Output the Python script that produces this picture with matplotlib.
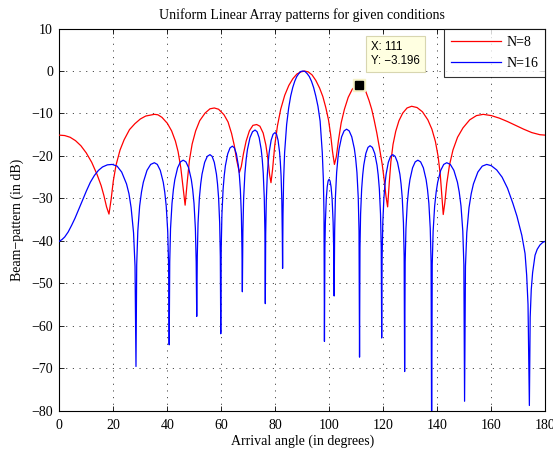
import matplotlib
matplotlib.use("Agg")
import matplotlib.pyplot as plt

# ---------------- data ----------------
title_text = "Uniform Linear Array patterns for given conditions"
x_label = "Arrival angle (in degrees)"
y_label = "Beam\u2212pattern (in dB)"
series_names = ["N=8", "N=16"]
x_ticks = [0, 20, 40, 60, 80, 100, 120, 140, 160, 180]
y_ticks = [10, 0, -10, -20, -30, -40, -50, -60, -70, -80]

n8_angle = [0.0, 2.0, 4.0, 6.0, 8.0, 10.0, 12.0, 14.0, 15.5, 16.5, 17.5, 18.4,
            19.2, 20.0, 21.0, 22.5, 24.0, 26.0, 28.0, 30.0, 32.0, 35.2, 36.5, 38.0,
            40.0, 41.6, 43.0, 44.0, 45.0, 45.8, 46.6,
            47.4, 48.2, 49.2, 50.5, 52.0, 54.0, 55.8, 57.4, 59.0, 61.0, 62.5, 63.8,
            64.8, 65.7, 66.7,
            67.4, 68.2, 69.2, 70.4, 71.7, 73.1, 74.3, 75.5, 76.5, 77.3, 77.9, 78.4,
            79.0, 79.8, 80.8, 82.0, 83.5, 85.0, 86.5, 88.0, 89.5, 90.8, 92.2, 93.6,
            95.0, 96.4, 97.6, 98.7, 99.7, 100.5, 101.2, 101.9,
            102.6, 103.4, 104.4, 105.6, 107.0, 108.5, 109.8, 111.0, 112.3, 113.5,
            114.7, 115.7, 116.6, 117.6, 118.6, 119.6, 120.4, 121.0, 121.6,
            122.2, 122.8, 123.6, 124.6, 125.8, 127.2, 128.8, 130.5, 132.5, 134.5,
            136.5, 138.0, 139.3, 140.3, 141.1, 141.7, 142.2,
            142.8, 143.5, 144.5, 145.8, 147.5, 149.5, 152.0, 154.5, 157.0, 160.0,
            163.0, 166.0, 169.0, 172.0, 175.0, 178.0, 180.0]
n8_db = [-15.1, -15.2, -15.6, -16.4, -17.6, -19.3, -21.5, -24.4, -27.0, -29.3, -32.0, -33.7,
         -30.2, -25.9, -22.2, -18.6, -16.2, -13.8, -12.4, -11.3, -10.6, -10.2, -10.3, -10.9,
         -12.3, -14.1, -16.5, -19.0, -22.8, -27.3, -31.6,
         -26.0, -21.0, -17.2, -14.1, -11.7, -9.9, -8.9, -8.7, -9.0, -10.3, -12.0, -14.7,
         -17.5, -21.0, -23.9,
         -22.5, -19.5, -16.5, -14.1, -12.8, -12.6, -13.0, -14.6, -17.4, -20.9, -24.5, -26.3,
         -23.1, -17.5, -12.9, -9.0, -5.7, -3.4, -1.8, -0.7, -0.2, 0.0, -0.2, -0.9,
         -2.2, -4.0, -6.0, -8.6, -11.5, -15.0, -19.0, -22.0,
         -20.2, -16.3, -12.2, -9.0, -6.2, -4.3, -3.45, -3.196, -3.6, -4.8,
         -6.9, -9.0, -11.5, -14.6, -18.2, -22.0, -26.0, -29.5, -32.0,
         -26.4, -21.4, -17.3, -14.2, -11.7, -9.9, -8.7, -8.3, -8.6, -9.6,
         -11.5, -13.7, -16.6, -20.1, -24.4, -29.7, -33.8,
         -31.0, -26.5, -22.2, -18.6, -15.6, -13.4, -11.5, -10.5, -10.2, -10.5,
         -11.1, -11.9, -12.8, -13.7, -14.5, -15.0, -15.1]

n16_angle = [0.0, 1.0, 2.0, 3.3, 4.6, 5.8, 7.0, 8.5, 10.0, 11.5, 13.0, 14.5, 16.0, 17.8,
             19.6, 21.4, 23.1, 24.9, 25.8, 26.6, 27.5, 28.05, 28.4,
             28.67, 29.08, 29.76, 30.44, 31.12, 32.48, 33.84, 35.2, 36.3, 37.4, 38.5,
             39.05, 39.6, 40.15, 40.48, 40.7,
             40.9, 41.2, 41.74, 42.26, 42.78, 43.82, 44.86, 45.9, 46.9, 47.9, 48.9,
             49.4, 49.9, 50.4, 50.7, 50.9,
             51.1, 51.39, 51.88, 52.37, 52.86, 53.84, 54.82, 55.8, 56.6, 57.4, 58.2,
             58.6, 59.0, 59.4, 59.64, 59.8,
             59.97, 60.23, 60.66, 61.09, 61.52, 62.38, 63.24, 64.1, 64.84, 65.58, 66.32,
             66.69, 67.06, 67.43, 67.65, 67.8,
             67.99, 68.27, 68.74, 69.21, 69.68, 70.62, 71.56, 72.5, 73.26, 74.02, 74.78,
             75.16, 75.54, 75.92, 76.15, 76.3,
             76.44, 76.66, 77.02, 77.38, 77.74, 78.46, 79.18, 79.9, 80.46, 81.02, 81.58,
             81.86, 82.14, 82.42, 82.59, 82.7,
             82.85, 83.08, 83.45, 84.2, 84.95, 85.7, 86.45, 87.2, 87.95, 88.7, 89.45,
             90.2, 91.0, 91.8, 92.6, 93.4, 94.2, 95.0, 95.8, 96.6, 97.4, 97.8, 98.04, 98.2,
             98.37, 98.54, 98.88, 99.22, 99.56, 99.9, 100.28, 100.66, 101.04, 101.42,
             101.61, 101.8,
             101.98, 102.26, 102.72, 103.18, 103.64, 104.56, 105.48, 106.4, 107.36,
             108.32, 109.28, 109.76, 110.24, 110.72, 111.01, 111.2,
             111.36, 111.59, 111.98, 112.37, 112.76, 113.54, 114.32, 115.1, 115.96,
             116.82, 117.68, 118.11, 118.54, 118.97, 119.23, 119.4,
             119.56, 119.81, 120.22, 120.63, 121.04, 121.86, 122.68, 123.5, 124.38,
             125.26, 126.14, 126.58, 127.02, 127.46, 127.72, 127.9,
             128.1, 128.39, 128.88, 129.37, 129.86, 130.84, 131.82, 132.8, 133.82,
             134.84, 135.86, 136.37, 136.88, 137.39, 137.7, 137.9,
             138.12, 138.46, 139.02, 139.58, 140.14, 141.26, 142.38, 143.5, 144.82,
             146.14, 147.46, 148.12, 148.78, 149.44, 149.84, 150.1,
             150.43, 150.92, 151.74, 152.56, 153.38, 155.02, 156.66, 158.3, 160.0,
             162.0, 164.0, 166.0, 168.0, 169.5, 171.3, 172.5, 173.1, 173.6, 174.1,
             174.4, 174.8, 175.3, 176.2, 177.0, 178.0, 179.0, 180.0]
n16_db = [-40.1, -39.7, -39.1, -37.9, -36.3, -34.7, -32.9, -30.6, -28.3, -26.2, -24.6, -23.4,
          -22.6, -22.1, -22.0, -22.4, -23.8, -26.6, -28.9, -32.2, -38.1, -46.0, -69.6,
          -45.6, -37.7, -31.8, -28.5, -26.2, -23.4, -22.0, -21.6, -22.0, -23.4, -26.2,
          -28.5, -31.8, -37.7, -45.6, -64.5,
          -45.0, -37.1, -31.2, -27.9, -25.6, -22.8, -21.4, -21.0, -21.4, -22.8, -25.6,
          -27.9, -31.2, -37.1, -45.0, -57.8,
          -43.7, -35.8, -29.9, -26.6, -24.3, -21.5, -20.1, -19.7, -20.1, -21.5, -24.3,
          -26.6, -29.9, -35.8, -43.7, -61.9,
          -41.7, -33.8, -27.9, -24.6, -22.3, -19.5, -18.1, -17.7, -18.1, -19.5, -22.3,
          -24.6, -27.9, -33.8, -41.7, -52.0,
          -37.9, -30.0, -24.1, -20.8, -18.5, -15.7, -14.3, -13.9, -14.3, -15.7, -18.5,
          -20.8, -24.1, -30.0, -37.9, -54.8,
          -38.5, -30.6, -24.7, -21.4, -19.1, -16.3, -14.9, -14.5, -14.9, -16.3, -19.1,
          -21.4, -24.7, -30.6, -38.5, -46.5,
          -33.8, -25.6, -19.2, -12.6, -8.7, -5.9, -3.9, -2.4, -1.3, -0.6, -0.1,
          0.0, -0.1, -0.6, -1.3, -2.4, -3.9, -5.9, -8.3, -11.8, -19.2, -25.6, -33.8, -63.7,
          -41.6, -35.7, -30.1, -27.3, -25.9, -25.5, -25.9, -27.3, -30.1, -35.7,
          -41.6, -53.0,
          -37.7, -29.8, -23.9, -20.6, -18.3, -15.5, -14.1, -13.7, -14.1,
          -15.5, -18.3, -20.6, -23.9, -29.8, -37.7, -67.4,
          -41.6, -33.7, -27.8, -24.5, -22.2, -19.4, -18.0, -17.6, -18.0,
          -19.4, -22.2, -24.5, -27.8, -33.7, -41.6, -62.9,
          -43.7, -35.8, -29.9, -26.6, -24.3, -21.5, -20.1, -19.7, -20.1,
          -21.5, -24.3, -26.6, -29.9, -35.8, -43.7, -70.8,
          -45.0, -37.1, -31.2, -27.9, -25.6, -22.8, -21.4, -21.0, -21.4,
          -22.8, -25.6, -27.9, -31.2, -37.1, -45.0, -88.0,
          -45.6, -37.7, -31.8, -28.5, -26.2, -23.4, -22.0, -21.6, -22.0,
          -23.4, -26.2, -28.5, -31.8, -37.7, -45.6, -77.8,
          -46.0, -38.1, -32.2, -28.9, -26.6, -23.8, -22.4, -22.0, -22.3,
          -23.3, -25.0, -27.6, -31.2, -34.2, -38.7, -43.0, -48.1, -55.0, -78.8,
          -58.0, -51.5, -47.5, -43.4, -42.0, -41.0, -40.4, -40.1]

tip_x = 111
tip_y = -3.196

# ---------------- styling ----------------
plt.rcParams["font.family"] = ["Liberation Serif", "DejaVu Serif"]
plt.rcParams["axes.unicode_minus"] = True
plt.rcParams["lines.scale_dashes"] = False

W, H = 553, 451
fig = plt.figure(figsize=(W / 100, H / 100), dpi=100)
fig.patch.set_facecolor("white")
L, R, T, B = 59.3, 545.3, 28.6, 410.6
ax = fig.add_axes([L / W, 1 - B / H, (R - L) / W, (B - T) / H])

ax.plot(n8_angle, n8_db, color=(1, 0, 0), lw=0.9, label=series_names[0], zorder=3)
ax.plot(n16_angle, n16_db, color=(0, 0, 1), lw=0.9, label=series_names[1], zorder=3)

ax.set_xlim(0, 180)
ax.set_ylim(-80, 10)
ax.set_xticks(x_ticks)
ax.set_yticks(y_ticks)
ax.grid(True, color="0.15", linestyle=(0, (0.8, 4.0)), linewidth=0.6)
ax.tick_params(direction="in", top=True, right=True, length=3.5, width=0.6,
               labelsize=10, pad=6, colors="black")
ax.tick_params(axis="y", pad=4.5)
for s in ax.spines.values():
    s.set_linewidth(0.8)
    s.set_color("black")

ax.set_title(title_text, fontsize=10, pad=7)
ax.set_xlabel(x_label, fontsize=10, labelpad=2)
ax.set_ylabel(y_label, fontsize=10, labelpad=5)

leg = ax.legend(loc="upper right", bbox_to_anchor=(1.0, 1.0), borderaxespad=0.0,
                frameon=True, fancybox=False, fontsize=10, handlelength=3.6,
                handletextpad=0.4, labelspacing=0.58, borderpad=0.5)
leg.get_frame().set_edgecolor("black")
leg.get_frame().set_linewidth(0.8)
leg.set_zorder(6)

# data tip
ax.plot([tip_x], [tip_y], marker="s", markersize=9, color="#f5f2c8", zorder=5,
        linestyle="none")
ax.plot([tip_x], [tip_y], marker="s", markersize=5.6, color="black", zorder=6,
        linestyle="none")
ax.annotate(f"X: {tip_x}\nY: \u2212{abs(tip_y):.3f}", xy=(tip_x, tip_y),
            xytext=(8.5, 12.5), textcoords="offset points", fontsize=8.3,
            family=["Liberation Sans", "DejaVu Sans"], linespacing=1.3,
            ha="left", va="bottom", zorder=7,
            bbox=dict(boxstyle="square,pad=0.42", fc="#ffffe1", ec="#d8d6b0", lw=0.8))

fig.savefig("out.png", dpi=100, facecolor="white")
